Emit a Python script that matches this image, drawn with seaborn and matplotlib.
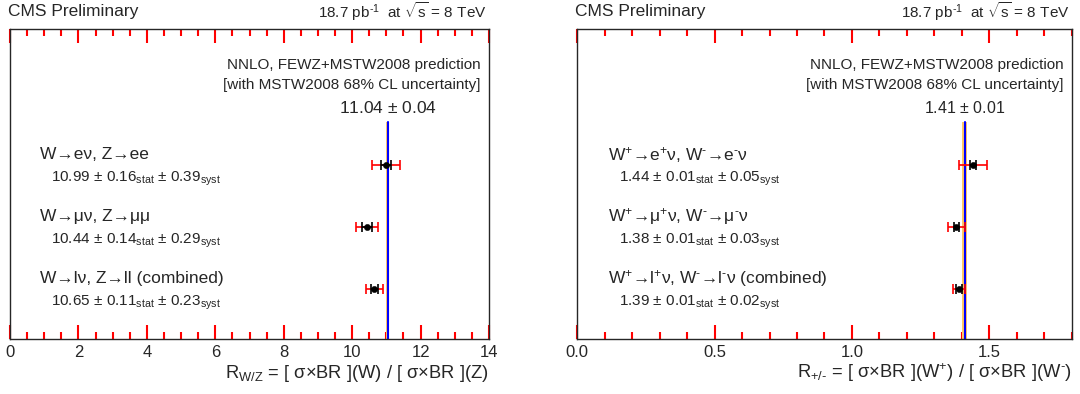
import matplotlib
matplotlib.use("Agg")
import matplotlib.pyplot as plt
import seaborn as sns
import pandas as pd
import numpy as np
from matplotlib.ticker import MultipleLocator, FormatStrFormatter

# ---- data ----
wz_labels = ["W→eν, Z→ee", "W→μν, Z→μμ", "W→lν, Z→ll (combined)"]
wz_values = [10.99, 10.44, 10.65]
wz_stat = [0.16, 0.14, 0.11]
wz_syst = [0.39, 0.29, 0.23]
wz_pred = 11.04
wz_pred_unc = 0.04

pm_labels = [r"W$^{+}$→e$^{+}$ν, W$^{\text{-}}$→e$^{\text{-}}$ν",
             r"W$^{+}$→μ$^{+}$ν, W$^{\text{-}}$→μ$^{\text{-}}$ν",
             r"W$^{+}$→l$^{+}$ν, W$^{\text{-}}$→l$^{\text{-}}$ν (combined)"]
pm_values = [1.44, 1.38, 1.39]
pm_stat = [0.01, 0.01, 0.01]
pm_syst = [0.05, 0.03, 0.02]
pm_pred = 1.41
pm_pred_unc = 0.01

row_pos = [2.8, 1.8, 0.8]

sns.set_theme(style="ticks")
plt.rcParams['font.family'] = ['Liberation Sans', 'DejaVu Sans']
plt.rcParams['mathtext.fontset'] = 'custom'
plt.rcParams['mathtext.rm'] = 'Liberation Sans'
plt.rcParams['mathtext.it'] = 'Liberation Sans:italic'
plt.rcParams['mathtext.bf'] = 'Liberation Sans:bold'
plt.rcParams['axes.linewidth'] = 1.0

fig = plt.figure(figsize=(10.8, 3.94), dpi=100)
axL = fig.add_axes([10/1080, 55/394, 479/1080, 310/394])
axR = fig.add_axes([577/1080, 55/394, 495/1080, 310/394])


def panel(ax, labels, vals, stat, syst, pred, pred_unc, xmax, major, minor,
          pred_fmt, pred_fs, xlabel):
    df = pd.DataFrame({"val": vals, "y": row_pos,
                       "stat": stat, "syst": syst})
    df["tot"] = np.sqrt(df["stat"]**2 + df["syst"]**2)
    sns.scatterplot(data=df, x="val", y="y", ax=ax, color="black", s=20,
                    edgecolor="black", zorder=5, legend=False)
    ax.fill_betweenx([0, 3.5], pred - pred_unc, pred + pred_unc,
                     color="#FFC966", lw=0, zorder=1)
    ax.plot([pred, pred], [0, 3.5], color="#0000FF", lw=1.5, zorder=2)
    ax.errorbar(df["val"], df["y"], xerr=df["tot"], fmt="none",
                ecolor="#FF0000", elinewidth=1.2, capsize=3.6, capthick=1.2, zorder=3)
    ax.errorbar(df["val"], df["y"], xerr=df["stat"], fmt="none",
                ecolor="black", elinewidth=1.2, capsize=3.6, capthick=1.2, zorder=4)
    ax.set_xlabel("")
    ax.set_ylabel("")
    ax.set_xlim(0, xmax)
    ax.set_ylim(0, 5)
    ax.yaxis.set_visible(False)
    ax.xaxis.set_major_locator(MultipleLocator(major))
    ax.xaxis.set_minor_locator(MultipleLocator(minor))
    ax.tick_params(axis="x", which="major", direction="in", length=10,
                   width=1.5, top=True, bottom=True, labelsize=12, pad=4,
                   color="red")
    ax.tick_params(axis="x", which="minor", direction="in", length=5,
                   width=1.5, top=True, bottom=True, color="red")
    ax.text(pred, 3.72, pred_fmt, ha="center", va="center", fontsize=pred_fs)
    x0 = 0.063 * xmax
    x1 = 0.085 * xmax
    for lab, v, st, sy, y in zip(labels, vals, stat, syst, row_pos):
        ax.text(x0, y + 0.17, lab, ha="left", va="center", fontsize=12.5)
        ax.text(x1, y - 0.22,
                ("%.2f" % v) + r" $\pm$ " + ("%.2f" % st) + r"$_{\rm stat}$ $\pm$ "
                + ("%.2f" % sy) + r"$_{\rm syst}$",
                ha="left", va="center", fontsize=11)
    ax.text(0.983, 0.885, "NNLO, FEWZ+MSTW2008 prediction", transform=ax.transAxes,
            ha="right", va="center", fontsize=11)
    ax.text(0.983, 0.82, "[with MSTW2008 68% CL uncertainty]", transform=ax.transAxes,
            ha="right", va="center", fontsize=11)
    ax.text(-0.005, 1.055, "CMS Preliminary", transform=ax.transAxes,
            ha="left", va="center", fontsize=12.5)
    ax.text(0.995, 1.055, r"18.7 pb$^{\text{-1}}$  at $\sqrt{\rm s}$ = 8 TeV",
            transform=ax.transAxes, ha="right", va="center", fontsize=11)
    ax.text(1.0, -0.11, xlabel, transform=ax.transAxes, ha="right",
            va="center", fontsize=13.2)


panel(axL, wz_labels, wz_values, wz_stat, wz_syst, wz_pred, wz_pred_unc,
      14, 2, 0.5, r"11.04 $\pm$ 0.04", 12.5,
      r"R$_{\rm W/Z}$ = [ σ×BR ](W) / [ σ×BR ](Z)")
panel(axR, pm_labels, pm_values, pm_stat, pm_syst, pm_pred, pm_pred_unc,
      1.8, 0.5, 0.1, r"1.41 $\pm$ 0.01", 11.5,
      r"R$_{+/\text{-}}$ = [ σ×BR ](W$^{+}$) / [ σ×BR ](W$^{\text{-}}$)")
axR.xaxis.set_major_formatter(FormatStrFormatter("%.1f"))

fig.savefig("out.png", dpi=100)
